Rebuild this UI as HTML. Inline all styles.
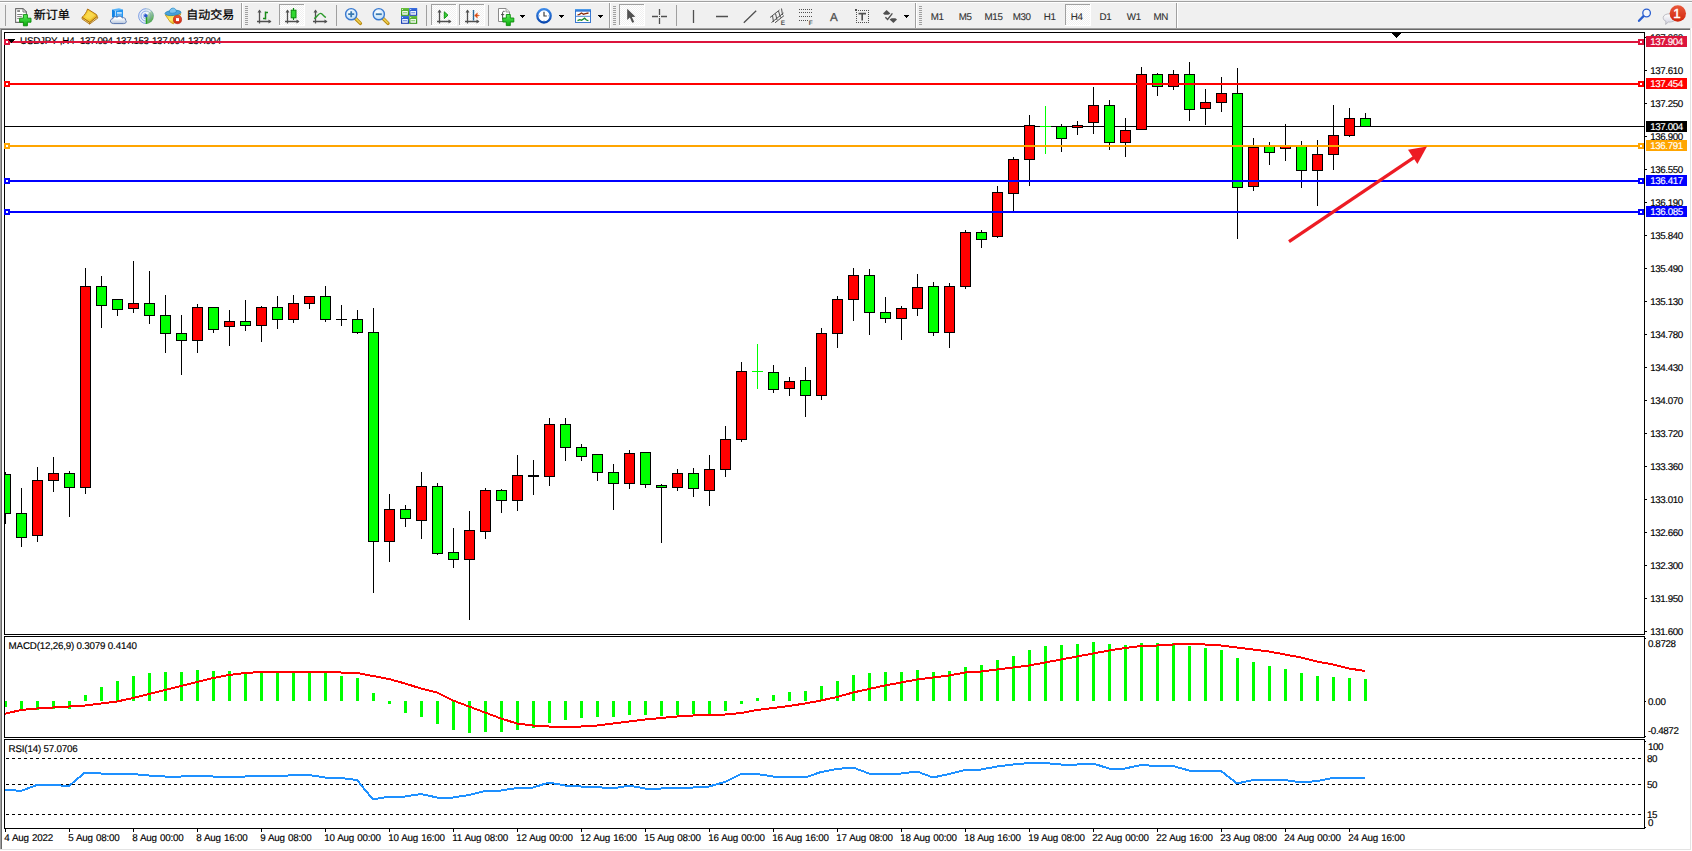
<!DOCTYPE html>
<html lang="zh"><head><meta charset="utf-8"><title>USDJPY,H4</title>
<style>
html,body{margin:0;padding:0;background:#fff;}
body{width:1692px;height:851px;overflow:hidden;position:relative;font-family:'Liberation Sans', 'Noto Sans CJK SC', sans-serif;}
svg{position:absolute;left:0;top:0;display:block;}
text{font-family:'Liberation Sans', 'Noto Sans CJK SC', sans-serif;text-rendering:geometricPrecision;}
.ax{font-size:9.8px;letter-spacing:-0.2px;fill:#000;stroke:#000;stroke-width:0.15px;}
.lb{font-size:9.8px;letter-spacing:-0.4px;fill:#fff;stroke:#fff;stroke-width:0.15px;}
.tf{font-size:9.8px;letter-spacing:-0.4px;fill:#303030;stroke:#303030;stroke-width:0.1px;}
.nm{font-size:9.8px;letter-spacing:-0.4px;fill:#000;stroke:#000;stroke-width:0.15px;}
.cn{font-size:12px;fill:#000;stroke:#000;stroke-width:0.25px;}
</style></head><body>
<svg width="1692" height="851" viewBox="0 0 1692 851">
<defs>
<pattern id="chk" width="2" height="2" patternUnits="userSpaceOnUse"><rect width="2" height="2" fill="#fff"/><rect width="1" height="1" fill="#f0f0f0"/><rect x="1" y="1" width="1" height="1" fill="#f0f0f0"/></pattern>
<clipPath id="cm"><rect x="5" y="33" width="1639" height="601"/></clipPath>
<clipPath id="cd"><rect x="5" y="637" width="1639" height="100"/></clipPath>
<clipPath id="cr"><rect x="5" y="740" width="1639" height="88"/></clipPath>
</defs>
<g shape-rendering="crispEdges">
<rect x="0" y="0" width="1692" height="851" fill="#fff"/>
<rect x="0" y="0" width="1692" height="28" fill="#f0f0f0"/>
<rect x="0" y="1" width="1692" height="1" fill="#a0a0a0"/>
<rect x="0" y="2" width="1692" height="1" fill="#fff"/>
<rect x="0" y="28" width="1690" height="1" fill="#a0a0a0"/>
<rect x="0" y="29" width="1690" height="1" fill="#696969"/>
<rect x="0" y="28" width="1" height="821" fill="#a0a0a0"/>
<rect x="1" y="29" width="1" height="820" fill="#696969"/>
<rect x="1690" y="28" width="1" height="822" fill="#e3e3e3"/>
<rect x="1691" y="28" width="1" height="823" fill="#fff"/>
<rect x="0" y="849" width="1691" height="1" fill="#e3e3e3"/>
<rect x="0" y="850" width="1692" height="1" fill="#fff"/>
<rect x="4" y="32" width="1641" height="1" fill="#000"/>
<rect x="4" y="634" width="1641" height="1" fill="#000"/>
<rect x="4" y="636" width="1641" height="1" fill="#000"/>
<rect x="4" y="737" width="1641" height="1" fill="#000"/>
<rect x="4" y="739" width="1641" height="1" fill="#000"/>
<rect x="4" y="828" width="1641" height="1" fill="#000"/>
<rect x="4" y="32" width="1" height="797" fill="#000"/>
<rect x="1644" y="32" width="1" height="797" fill="#000"/>
<rect x="4" y="635" width="1641" height="1" fill="#fff"/>
<rect x="4" y="738" width="1641" height="1" fill="#fff"/>
<rect x="1392" y="33" width="9" height="1" fill="#000"/>
<rect x="1393" y="34" width="7" height="1" fill="#000"/>
<rect x="1394" y="35" width="5" height="1" fill="#000"/>
<rect x="1395" y="36" width="3" height="1" fill="#000"/>
<rect x="1396" y="37" width="1" height="1" fill="#000"/>
</g>
<g clip-path="url(#cm)" shape-rendering="crispEdges">
<rect x="5" y="126" width="1639" height="1" fill="#000"/>
<rect x="5" y="472" width="1" height="52" fill="#000"/>
<rect x="0" y="474" width="11" height="40" fill="#000"/>
<rect x="1" y="475" width="9" height="38" fill="#00ff00"/>
<rect x="21" y="488" width="1" height="59" fill="#000"/>
<rect x="16" y="513" width="11" height="25" fill="#000"/>
<rect x="17" y="514" width="9" height="23" fill="#00ff00"/>
<rect x="37" y="467" width="1" height="75" fill="#000"/>
<rect x="32" y="480" width="11" height="56" fill="#000"/>
<rect x="33" y="481" width="9" height="54" fill="#ff0000"/>
<rect x="53" y="457" width="1" height="35" fill="#000"/>
<rect x="48" y="473" width="11" height="8" fill="#000"/>
<rect x="49" y="474" width="9" height="6" fill="#ff0000"/>
<rect x="69" y="471" width="1" height="46" fill="#000"/>
<rect x="64" y="473" width="11" height="15" fill="#000"/>
<rect x="65" y="474" width="9" height="13" fill="#00ff00"/>
<rect x="85" y="268" width="1" height="226" fill="#000"/>
<rect x="80" y="286" width="11" height="202" fill="#000"/>
<rect x="81" y="287" width="9" height="200" fill="#ff0000"/>
<rect x="101" y="276" width="1" height="52" fill="#000"/>
<rect x="96" y="286" width="11" height="20" fill="#000"/>
<rect x="97" y="287" width="9" height="18" fill="#00ff00"/>
<rect x="117" y="299" width="1" height="17" fill="#000"/>
<rect x="112" y="299" width="11" height="11" fill="#000"/>
<rect x="113" y="300" width="9" height="9" fill="#00ff00"/>
<rect x="133" y="261" width="1" height="52" fill="#000"/>
<rect x="128" y="303" width="11" height="6" fill="#000"/>
<rect x="129" y="304" width="9" height="4" fill="#ff0000"/>
<rect x="149" y="271" width="1" height="53" fill="#000"/>
<rect x="144" y="303" width="11" height="13" fill="#000"/>
<rect x="145" y="304" width="9" height="11" fill="#00ff00"/>
<rect x="165" y="295" width="1" height="58" fill="#000"/>
<rect x="160" y="315" width="11" height="19" fill="#000"/>
<rect x="161" y="316" width="9" height="17" fill="#00ff00"/>
<rect x="181" y="315" width="1" height="60" fill="#000"/>
<rect x="176" y="333" width="11" height="8" fill="#000"/>
<rect x="177" y="334" width="9" height="6" fill="#00ff00"/>
<rect x="197" y="304" width="1" height="49" fill="#000"/>
<rect x="192" y="307" width="11" height="34" fill="#000"/>
<rect x="193" y="308" width="9" height="32" fill="#ff0000"/>
<rect x="213" y="307" width="1" height="26" fill="#000"/>
<rect x="208" y="307" width="11" height="23" fill="#000"/>
<rect x="209" y="308" width="9" height="21" fill="#00ff00"/>
<rect x="229" y="310" width="1" height="36" fill="#000"/>
<rect x="224" y="321" width="11" height="6" fill="#000"/>
<rect x="225" y="322" width="9" height="4" fill="#ff0000"/>
<rect x="245" y="300" width="1" height="31" fill="#000"/>
<rect x="240" y="321" width="11" height="5" fill="#000"/>
<rect x="241" y="322" width="9" height="3" fill="#00ff00"/>
<rect x="261" y="306" width="1" height="36" fill="#000"/>
<rect x="256" y="307" width="11" height="19" fill="#000"/>
<rect x="257" y="308" width="9" height="17" fill="#ff0000"/>
<rect x="277" y="296" width="1" height="33" fill="#000"/>
<rect x="272" y="307" width="11" height="13" fill="#000"/>
<rect x="273" y="308" width="9" height="11" fill="#00ff00"/>
<rect x="293" y="295" width="1" height="28" fill="#000"/>
<rect x="288" y="303" width="11" height="17" fill="#000"/>
<rect x="289" y="304" width="9" height="15" fill="#ff0000"/>
<rect x="309" y="296" width="1" height="13" fill="#000"/>
<rect x="304" y="296" width="11" height="8" fill="#000"/>
<rect x="305" y="297" width="9" height="6" fill="#ff0000"/>
<rect x="325" y="286" width="1" height="36" fill="#000"/>
<rect x="320" y="296" width="11" height="24" fill="#000"/>
<rect x="321" y="297" width="9" height="22" fill="#00ff00"/>
<rect x="341" y="305" width="1" height="21" fill="#000"/>
<rect x="336" y="319" width="11" height="1" fill="#000"/>
<rect x="357" y="310" width="1" height="24" fill="#000"/>
<rect x="352" y="319" width="11" height="14" fill="#000"/>
<rect x="353" y="320" width="9" height="12" fill="#00ff00"/>
<rect x="373" y="308" width="1" height="285" fill="#000"/>
<rect x="368" y="332" width="11" height="210" fill="#000"/>
<rect x="369" y="333" width="9" height="208" fill="#00ff00"/>
<rect x="389" y="494" width="1" height="68" fill="#000"/>
<rect x="384" y="509" width="11" height="33" fill="#000"/>
<rect x="385" y="510" width="9" height="31" fill="#ff0000"/>
<rect x="405" y="505" width="1" height="22" fill="#000"/>
<rect x="400" y="509" width="11" height="10" fill="#000"/>
<rect x="401" y="510" width="9" height="8" fill="#00ff00"/>
<rect x="421" y="472" width="1" height="67" fill="#000"/>
<rect x="416" y="486" width="11" height="35" fill="#000"/>
<rect x="417" y="487" width="9" height="33" fill="#ff0000"/>
<rect x="437" y="483" width="1" height="72" fill="#000"/>
<rect x="432" y="486" width="11" height="68" fill="#000"/>
<rect x="433" y="487" width="9" height="66" fill="#00ff00"/>
<rect x="453" y="528" width="1" height="40" fill="#000"/>
<rect x="448" y="552" width="11" height="8" fill="#000"/>
<rect x="449" y="553" width="9" height="6" fill="#00ff00"/>
<rect x="469" y="511" width="1" height="109" fill="#000"/>
<rect x="464" y="530" width="11" height="30" fill="#000"/>
<rect x="465" y="531" width="9" height="28" fill="#ff0000"/>
<rect x="485" y="488" width="1" height="51" fill="#000"/>
<rect x="480" y="490" width="11" height="42" fill="#000"/>
<rect x="481" y="491" width="9" height="40" fill="#ff0000"/>
<rect x="501" y="489" width="1" height="24" fill="#000"/>
<rect x="496" y="490" width="11" height="11" fill="#000"/>
<rect x="497" y="491" width="9" height="9" fill="#00ff00"/>
<rect x="517" y="455" width="1" height="56" fill="#000"/>
<rect x="512" y="475" width="11" height="26" fill="#000"/>
<rect x="513" y="476" width="9" height="24" fill="#ff0000"/>
<rect x="533" y="460" width="1" height="35" fill="#000"/>
<rect x="528" y="475" width="11" height="2" fill="#000"/>
<rect x="549" y="418" width="1" height="68" fill="#000"/>
<rect x="544" y="424" width="11" height="53" fill="#000"/>
<rect x="545" y="425" width="9" height="51" fill="#ff0000"/>
<rect x="565" y="418" width="1" height="43" fill="#000"/>
<rect x="560" y="424" width="11" height="24" fill="#000"/>
<rect x="561" y="425" width="9" height="22" fill="#00ff00"/>
<rect x="581" y="444" width="1" height="17" fill="#000"/>
<rect x="576" y="447" width="11" height="10" fill="#000"/>
<rect x="577" y="448" width="9" height="8" fill="#00ff00"/>
<rect x="597" y="454" width="1" height="27" fill="#000"/>
<rect x="592" y="454" width="11" height="19" fill="#000"/>
<rect x="593" y="455" width="9" height="17" fill="#00ff00"/>
<rect x="613" y="464" width="1" height="46" fill="#000"/>
<rect x="608" y="472" width="11" height="12" fill="#000"/>
<rect x="609" y="473" width="9" height="10" fill="#00ff00"/>
<rect x="629" y="450" width="1" height="39" fill="#000"/>
<rect x="624" y="453" width="11" height="31" fill="#000"/>
<rect x="625" y="454" width="9" height="29" fill="#ff0000"/>
<rect x="645" y="452" width="1" height="36" fill="#000"/>
<rect x="640" y="452" width="11" height="33" fill="#000"/>
<rect x="641" y="453" width="9" height="31" fill="#00ff00"/>
<rect x="661" y="484" width="1" height="59" fill="#000"/>
<rect x="656" y="485" width="11" height="3" fill="#000"/>
<rect x="657" y="486" width="9" height="1" fill="#00ff00"/>
<rect x="677" y="469" width="1" height="22" fill="#000"/>
<rect x="672" y="473" width="11" height="15" fill="#000"/>
<rect x="673" y="474" width="9" height="13" fill="#ff0000"/>
<rect x="693" y="468" width="1" height="29" fill="#000"/>
<rect x="688" y="473" width="11" height="16" fill="#000"/>
<rect x="689" y="474" width="9" height="14" fill="#00ff00"/>
<rect x="709" y="455" width="1" height="51" fill="#000"/>
<rect x="704" y="469" width="11" height="22" fill="#000"/>
<rect x="705" y="470" width="9" height="20" fill="#ff0000"/>
<rect x="725" y="426" width="1" height="51" fill="#000"/>
<rect x="720" y="439" width="11" height="31" fill="#000"/>
<rect x="721" y="440" width="9" height="29" fill="#ff0000"/>
<rect x="741" y="362" width="1" height="80" fill="#000"/>
<rect x="736" y="371" width="11" height="69" fill="#000"/>
<rect x="737" y="372" width="9" height="67" fill="#ff0000"/>
<rect x="757" y="344" width="1" height="45" fill="#00ff00"/>
<rect x="752" y="371" width="11" height="1" fill="#00ff00"/>
<rect x="773" y="365" width="1" height="28" fill="#000"/>
<rect x="768" y="372" width="11" height="18" fill="#000"/>
<rect x="769" y="373" width="9" height="16" fill="#00ff00"/>
<rect x="789" y="377" width="1" height="19" fill="#000"/>
<rect x="784" y="381" width="11" height="8" fill="#000"/>
<rect x="785" y="382" width="9" height="6" fill="#ff0000"/>
<rect x="805" y="367" width="1" height="50" fill="#000"/>
<rect x="800" y="380" width="11" height="16" fill="#000"/>
<rect x="801" y="381" width="9" height="14" fill="#00ff00"/>
<rect x="821" y="328" width="1" height="72" fill="#000"/>
<rect x="816" y="333" width="11" height="63" fill="#000"/>
<rect x="817" y="334" width="9" height="61" fill="#ff0000"/>
<rect x="837" y="296" width="1" height="52" fill="#000"/>
<rect x="832" y="299" width="11" height="35" fill="#000"/>
<rect x="833" y="300" width="9" height="33" fill="#ff0000"/>
<rect x="853" y="268" width="1" height="53" fill="#000"/>
<rect x="848" y="275" width="11" height="25" fill="#000"/>
<rect x="849" y="276" width="9" height="23" fill="#ff0000"/>
<rect x="869" y="269" width="1" height="66" fill="#000"/>
<rect x="864" y="275" width="11" height="38" fill="#000"/>
<rect x="865" y="276" width="9" height="36" fill="#00ff00"/>
<rect x="885" y="297" width="1" height="26" fill="#000"/>
<rect x="880" y="312" width="11" height="7" fill="#000"/>
<rect x="881" y="313" width="9" height="5" fill="#00ff00"/>
<rect x="901" y="306" width="1" height="34" fill="#000"/>
<rect x="896" y="308" width="11" height="11" fill="#000"/>
<rect x="897" y="309" width="9" height="9" fill="#ff0000"/>
<rect x="917" y="274" width="1" height="42" fill="#000"/>
<rect x="912" y="287" width="11" height="22" fill="#000"/>
<rect x="913" y="288" width="9" height="20" fill="#ff0000"/>
<rect x="933" y="282" width="1" height="54" fill="#000"/>
<rect x="928" y="286" width="11" height="47" fill="#000"/>
<rect x="929" y="287" width="9" height="45" fill="#00ff00"/>
<rect x="949" y="283" width="1" height="65" fill="#000"/>
<rect x="944" y="286" width="11" height="47" fill="#000"/>
<rect x="945" y="287" width="9" height="45" fill="#ff0000"/>
<rect x="965" y="230" width="1" height="59" fill="#000"/>
<rect x="960" y="232" width="11" height="55" fill="#000"/>
<rect x="961" y="233" width="9" height="53" fill="#ff0000"/>
<rect x="981" y="230" width="1" height="18" fill="#000"/>
<rect x="976" y="232" width="11" height="8" fill="#000"/>
<rect x="977" y="233" width="9" height="6" fill="#00ff00"/>
<rect x="997" y="186" width="1" height="52" fill="#000"/>
<rect x="992" y="192" width="11" height="45" fill="#000"/>
<rect x="993" y="193" width="9" height="43" fill="#ff0000"/>
<rect x="1013" y="157" width="1" height="54" fill="#000"/>
<rect x="1008" y="159" width="11" height="35" fill="#000"/>
<rect x="1009" y="160" width="9" height="33" fill="#ff0000"/>
<rect x="1029" y="115" width="1" height="71" fill="#000"/>
<rect x="1024" y="125" width="11" height="35" fill="#000"/>
<rect x="1025" y="126" width="9" height="33" fill="#ff0000"/>
<rect x="1045" y="106" width="1" height="48" fill="#00ff00"/>
<rect x="1040" y="126" width="11" height="1" fill="#00ff00"/>
<rect x="1061" y="124" width="1" height="28" fill="#000"/>
<rect x="1056" y="126" width="11" height="13" fill="#000"/>
<rect x="1057" y="127" width="9" height="11" fill="#00ff00"/>
<rect x="1077" y="121" width="1" height="14" fill="#000"/>
<rect x="1072" y="125" width="11" height="3" fill="#000"/>
<rect x="1073" y="126" width="9" height="1" fill="#ff0000"/>
<rect x="1093" y="87" width="1" height="47" fill="#000"/>
<rect x="1088" y="105" width="11" height="18" fill="#000"/>
<rect x="1089" y="106" width="9" height="16" fill="#ff0000"/>
<rect x="1109" y="100" width="1" height="50" fill="#000"/>
<rect x="1104" y="105" width="11" height="38" fill="#000"/>
<rect x="1105" y="106" width="9" height="36" fill="#00ff00"/>
<rect x="1125" y="118" width="1" height="39" fill="#000"/>
<rect x="1120" y="130" width="11" height="13" fill="#000"/>
<rect x="1121" y="131" width="9" height="11" fill="#ff0000"/>
<rect x="1141" y="67" width="1" height="63" fill="#000"/>
<rect x="1136" y="74" width="11" height="56" fill="#000"/>
<rect x="1137" y="75" width="9" height="54" fill="#ff0000"/>
<rect x="1157" y="73" width="1" height="23" fill="#000"/>
<rect x="1152" y="74" width="11" height="13" fill="#000"/>
<rect x="1153" y="75" width="9" height="11" fill="#00ff00"/>
<rect x="1173" y="70" width="1" height="20" fill="#000"/>
<rect x="1168" y="74" width="11" height="13" fill="#000"/>
<rect x="1169" y="75" width="9" height="11" fill="#ff0000"/>
<rect x="1189" y="62" width="1" height="59" fill="#000"/>
<rect x="1184" y="74" width="11" height="36" fill="#000"/>
<rect x="1185" y="75" width="9" height="34" fill="#00ff00"/>
<rect x="1205" y="89" width="1" height="36" fill="#000"/>
<rect x="1200" y="102" width="11" height="7" fill="#000"/>
<rect x="1201" y="103" width="9" height="5" fill="#ff0000"/>
<rect x="1221" y="77" width="1" height="35" fill="#000"/>
<rect x="1216" y="93" width="11" height="10" fill="#000"/>
<rect x="1217" y="94" width="9" height="8" fill="#ff0000"/>
<rect x="1237" y="68" width="1" height="171" fill="#000"/>
<rect x="1232" y="93" width="11" height="95" fill="#000"/>
<rect x="1233" y="94" width="9" height="93" fill="#00ff00"/>
<rect x="1253" y="138" width="1" height="53" fill="#000"/>
<rect x="1248" y="147" width="11" height="40" fill="#000"/>
<rect x="1249" y="148" width="9" height="38" fill="#ff0000"/>
<rect x="1269" y="142" width="1" height="23" fill="#000"/>
<rect x="1264" y="145" width="11" height="8" fill="#000"/>
<rect x="1265" y="146" width="9" height="6" fill="#00ff00"/>
<rect x="1285" y="124" width="1" height="37" fill="#000"/>
<rect x="1280" y="146" width="11" height="3" fill="#000"/>
<rect x="1281" y="147" width="9" height="1" fill="#ff0000"/>
<rect x="1301" y="141" width="1" height="47" fill="#000"/>
<rect x="1296" y="145" width="11" height="26" fill="#000"/>
<rect x="1297" y="146" width="9" height="24" fill="#00ff00"/>
<rect x="1317" y="140" width="1" height="66" fill="#000"/>
<rect x="1312" y="154" width="11" height="17" fill="#000"/>
<rect x="1313" y="155" width="9" height="15" fill="#ff0000"/>
<rect x="1333" y="105" width="1" height="65" fill="#000"/>
<rect x="1328" y="135" width="11" height="20" fill="#000"/>
<rect x="1329" y="136" width="9" height="18" fill="#ff0000"/>
<rect x="1349" y="108" width="1" height="29" fill="#000"/>
<rect x="1344" y="118" width="11" height="18" fill="#000"/>
<rect x="1345" y="119" width="9" height="16" fill="#ff0000"/>
<rect x="1365" y="113" width="1" height="14" fill="#000"/>
<rect x="1360" y="118" width="11" height="9" fill="#000"/>
<rect x="1361" y="119" width="9" height="7" fill="#00ff00"/>
</g>
<g shape-rendering="crispEdges">
<rect x="1645" y="37" width="2" height="1" fill="#000"/>
<rect x="1645" y="70" width="2" height="1" fill="#000"/>
<rect x="1645" y="103" width="2" height="1" fill="#000"/>
<rect x="1645" y="136" width="2" height="1" fill="#000"/>
<rect x="1645" y="169" width="2" height="1" fill="#000"/>
<rect x="1645" y="202" width="2" height="1" fill="#000"/>
<rect x="1645" y="235" width="2" height="1" fill="#000"/>
<rect x="1645" y="268" width="2" height="1" fill="#000"/>
<rect x="1645" y="301" width="2" height="1" fill="#000"/>
<rect x="1645" y="334" width="2" height="1" fill="#000"/>
<rect x="1645" y="367" width="2" height="1" fill="#000"/>
<rect x="1645" y="400" width="2" height="1" fill="#000"/>
<rect x="1645" y="433" width="2" height="1" fill="#000"/>
<rect x="1645" y="466" width="2" height="1" fill="#000"/>
<rect x="1645" y="499" width="2" height="1" fill="#000"/>
<rect x="1645" y="532" width="2" height="1" fill="#000"/>
<rect x="1645" y="565" width="2" height="1" fill="#000"/>
<rect x="1645" y="598" width="2" height="1" fill="#000"/>
<rect x="1645" y="631" width="2" height="1" fill="#000"/>
</g>
<text class="nm" x="1650.2" y="40.8" xml:space="preserve">137.960</text>
<text class="nm" x="1650.2" y="73.8" xml:space="preserve">137.610</text>
<text class="nm" x="1650.2" y="106.8" xml:space="preserve">137.250</text>
<text class="nm" x="1650.2" y="139.8" xml:space="preserve">136.900</text>
<text class="nm" x="1650.2" y="172.8" xml:space="preserve">136.550</text>
<text class="nm" x="1650.2" y="205.8" xml:space="preserve">136.190</text>
<text class="nm" x="1650.2" y="238.8" xml:space="preserve">135.840</text>
<text class="nm" x="1650.2" y="271.8" xml:space="preserve">135.490</text>
<text class="nm" x="1650.2" y="304.8" xml:space="preserve">135.130</text>
<text class="nm" x="1650.2" y="337.8" xml:space="preserve">134.780</text>
<text class="nm" x="1650.2" y="370.8" xml:space="preserve">134.430</text>
<text class="nm" x="1650.2" y="403.8" xml:space="preserve">134.070</text>
<text class="nm" x="1650.2" y="436.8" xml:space="preserve">133.720</text>
<text class="nm" x="1650.2" y="469.8" xml:space="preserve">133.360</text>
<text class="nm" x="1650.2" y="502.8" xml:space="preserve">133.010</text>
<text class="nm" x="1650.2" y="535.8" xml:space="preserve">132.660</text>
<text class="nm" x="1650.2" y="568.8" xml:space="preserve">132.300</text>
<text class="nm" x="1650.2" y="601.8" xml:space="preserve">131.950</text>
<text class="nm" x="1650.2" y="634.8" xml:space="preserve">131.600</text>
<g shape-rendering="crispEdges">
<rect x="5" y="41" width="1639" height="2" fill="#dc143c"/>
<rect x="4" y="39" width="6" height="6" fill="#dc143c"/>
<rect x="6" y="41" width="2" height="2" fill="#fff"/>
<rect x="1638" y="39" width="6" height="6" fill="#dc143c"/>
<rect x="1640" y="41" width="2" height="2" fill="#fff"/>
<rect x="1646" y="36" width="41" height="11" fill="#dc143c"/>
</g>
<text class="lb" x="1650.2" y="44.8" xml:space="preserve">137.904</text>
<g shape-rendering="crispEdges">
<rect x="5" y="83" width="1639" height="2" fill="#ff0000"/>
<rect x="4" y="81" width="6" height="6" fill="#ff0000"/>
<rect x="6" y="83" width="2" height="2" fill="#fff"/>
<rect x="1638" y="81" width="6" height="6" fill="#ff0000"/>
<rect x="1640" y="83" width="2" height="2" fill="#fff"/>
<rect x="1646" y="78" width="41" height="11" fill="#ff0000"/>
</g>
<text class="lb" x="1650.2" y="86.8" xml:space="preserve">137.454</text>
<g shape-rendering="crispEdges">
<rect x="5" y="145" width="1639" height="2" fill="#ffa500"/>
<rect x="4" y="143" width="6" height="6" fill="#ffa500"/>
<rect x="6" y="145" width="2" height="2" fill="#fff"/>
<rect x="1638" y="143" width="6" height="6" fill="#ffa500"/>
<rect x="1640" y="145" width="2" height="2" fill="#fff"/>
<rect x="1646" y="140" width="41" height="11" fill="#ffa500"/>
</g>
<text class="lb" x="1650.2" y="148.8" xml:space="preserve">136.791</text>
<g shape-rendering="crispEdges">
<rect x="5" y="180" width="1639" height="2" fill="#0000ff"/>
<rect x="4" y="178" width="6" height="6" fill="#0000ff"/>
<rect x="6" y="180" width="2" height="2" fill="#fff"/>
<rect x="1638" y="178" width="6" height="6" fill="#0000ff"/>
<rect x="1640" y="180" width="2" height="2" fill="#fff"/>
<rect x="1646" y="175" width="41" height="11" fill="#0000ff"/>
</g>
<text class="lb" x="1650.2" y="183.8" xml:space="preserve">136.417</text>
<g shape-rendering="crispEdges">
<rect x="5" y="211" width="1639" height="2" fill="#0000ff"/>
<rect x="4" y="209" width="6" height="6" fill="#0000ff"/>
<rect x="6" y="211" width="2" height="2" fill="#fff"/>
<rect x="1638" y="209" width="6" height="6" fill="#0000ff"/>
<rect x="1640" y="211" width="2" height="2" fill="#fff"/>
<rect x="1646" y="206" width="41" height="11" fill="#0000ff"/>
</g>
<text class="lb" x="1650.2" y="214.8" xml:space="preserve">136.085</text>
<rect x="1646" y="121" width="41" height="11" fill="#000" shape-rendering="crispEdges"/>
<text class="lb" x="1650.2" y="129.8" xml:space="preserve">137.004</text>
<g fill="#ed1c24" stroke="none">
<path d="M1288.1,240.2 L1289.9,242.9 L1415.4,158.4 L1413.6,155.7 Z"/>
<path d="M1427,146.6 L1408,149.7 L1417.4,163.9 Z"/>
</g>
<text class="ax" x="20" y="43.9" xml:space="preserve">USDJPY ,H4</text>
<text class="nm" x="80" y="43.9" xml:space="preserve" style="word-spacing:1.1px">137.094 137.153 137.004 137.004</text>
<g shape-rendering="crispEdges">
<rect x="5" y="41" width="1639" height="2" fill="#dc143c"/>
<rect x="4" y="39" width="6" height="6" fill="#dc143c"/>
<rect x="6" y="41" width="2" height="2" fill="#fff"/>
<rect x="1638" y="39" width="6" height="6" fill="#dc143c"/>
<rect x="1640" y="41" width="2" height="2" fill="#fff"/>
<rect x="8" y="39" width="7" height="1" fill="#000"/>
<rect x="9" y="40" width="5" height="1" fill="#000"/>
<rect x="10" y="41" width="3" height="1" fill="#000"/>
<rect x="11" y="42" width="1" height="1" fill="#000"/>
</g>
<g clip-path="url(#cd)">
<g shape-rendering="crispEdges">
<rect x="4" y="701" width="3" height="6" fill="#00ff00"/>
<rect x="20" y="701" width="3" height="9" fill="#00ff00"/>
<rect x="36" y="701" width="3" height="9" fill="#00ff00"/>
<rect x="52" y="701" width="3" height="8" fill="#00ff00"/>
<rect x="68" y="701" width="3" height="8" fill="#00ff00"/>
<rect x="84" y="695" width="3" height="6" fill="#00ff00"/>
<rect x="100" y="687" width="3" height="14" fill="#00ff00"/>
<rect x="116" y="681" width="3" height="20" fill="#00ff00"/>
<rect x="132" y="676" width="3" height="25" fill="#00ff00"/>
<rect x="148" y="673" width="3" height="28" fill="#00ff00"/>
<rect x="164" y="672" width="3" height="29" fill="#00ff00"/>
<rect x="180" y="672" width="3" height="29" fill="#00ff00"/>
<rect x="196" y="670" width="3" height="31" fill="#00ff00"/>
<rect x="212" y="671" width="3" height="30" fill="#00ff00"/>
<rect x="228" y="671" width="3" height="30" fill="#00ff00"/>
<rect x="244" y="672" width="3" height="29" fill="#00ff00"/>
<rect x="260" y="672" width="3" height="29" fill="#00ff00"/>
<rect x="276" y="673" width="3" height="28" fill="#00ff00"/>
<rect x="292" y="673" width="3" height="28" fill="#00ff00"/>
<rect x="308" y="673" width="3" height="28" fill="#00ff00"/>
<rect x="324" y="673" width="3" height="28" fill="#00ff00"/>
<rect x="340" y="676" width="3" height="25" fill="#00ff00"/>
<rect x="356" y="678" width="3" height="23" fill="#00ff00"/>
<rect x="372" y="693" width="3" height="8" fill="#00ff00"/>
<rect x="388" y="701" width="3" height="3" fill="#00ff00"/>
<rect x="404" y="701" width="3" height="12" fill="#00ff00"/>
<rect x="420" y="701" width="3" height="16" fill="#00ff00"/>
<rect x="436" y="701" width="3" height="23" fill="#00ff00"/>
<rect x="452" y="701" width="3" height="29" fill="#00ff00"/>
<rect x="468" y="701" width="3" height="32" fill="#00ff00"/>
<rect x="484" y="701" width="3" height="31" fill="#00ff00"/>
<rect x="500" y="701" width="3" height="31" fill="#00ff00"/>
<rect x="516" y="701" width="3" height="29" fill="#00ff00"/>
<rect x="532" y="701" width="3" height="27" fill="#00ff00"/>
<rect x="548" y="701" width="3" height="22" fill="#00ff00"/>
<rect x="564" y="701" width="3" height="19" fill="#00ff00"/>
<rect x="580" y="701" width="3" height="17" fill="#00ff00"/>
<rect x="596" y="701" width="3" height="16" fill="#00ff00"/>
<rect x="612" y="701" width="3" height="16" fill="#00ff00"/>
<rect x="628" y="701" width="3" height="14" fill="#00ff00"/>
<rect x="644" y="701" width="3" height="14" fill="#00ff00"/>
<rect x="660" y="701" width="3" height="15" fill="#00ff00"/>
<rect x="676" y="701" width="3" height="14" fill="#00ff00"/>
<rect x="692" y="701" width="3" height="13" fill="#00ff00"/>
<rect x="708" y="701" width="3" height="13" fill="#00ff00"/>
<rect x="724" y="701" width="3" height="10" fill="#00ff00"/>
<rect x="740" y="701" width="3" height="3" fill="#00ff00"/>
<rect x="756" y="698" width="3" height="3" fill="#00ff00"/>
<rect x="772" y="695" width="3" height="6" fill="#00ff00"/>
<rect x="788" y="692" width="3" height="9" fill="#00ff00"/>
<rect x="804" y="691" width="3" height="10" fill="#00ff00"/>
<rect x="820" y="686" width="3" height="15" fill="#00ff00"/>
<rect x="836" y="681" width="3" height="20" fill="#00ff00"/>
<rect x="852" y="675" width="3" height="26" fill="#00ff00"/>
<rect x="868" y="673" width="3" height="28" fill="#00ff00"/>
<rect x="884" y="672" width="3" height="29" fill="#00ff00"/>
<rect x="900" y="672" width="3" height="29" fill="#00ff00"/>
<rect x="916" y="670" width="3" height="31" fill="#00ff00"/>
<rect x="932" y="672" width="3" height="29" fill="#00ff00"/>
<rect x="948" y="671" width="3" height="30" fill="#00ff00"/>
<rect x="964" y="667" width="3" height="34" fill="#00ff00"/>
<rect x="980" y="665" width="3" height="36" fill="#00ff00"/>
<rect x="996" y="660" width="3" height="41" fill="#00ff00"/>
<rect x="1012" y="656" width="3" height="45" fill="#00ff00"/>
<rect x="1028" y="650" width="3" height="51" fill="#00ff00"/>
<rect x="1044" y="646" width="3" height="55" fill="#00ff00"/>
<rect x="1060" y="645" width="3" height="56" fill="#00ff00"/>
<rect x="1076" y="644" width="3" height="57" fill="#00ff00"/>
<rect x="1092" y="642" width="3" height="59" fill="#00ff00"/>
<rect x="1108" y="644" width="3" height="57" fill="#00ff00"/>
<rect x="1124" y="645" width="3" height="56" fill="#00ff00"/>
<rect x="1140" y="643" width="3" height="58" fill="#00ff00"/>
<rect x="1156" y="643" width="3" height="58" fill="#00ff00"/>
<rect x="1172" y="643" width="3" height="58" fill="#00ff00"/>
<rect x="1188" y="646" width="3" height="55" fill="#00ff00"/>
<rect x="1204" y="648" width="3" height="53" fill="#00ff00"/>
<rect x="1220" y="650" width="3" height="51" fill="#00ff00"/>
<rect x="1236" y="658" width="3" height="43" fill="#00ff00"/>
<rect x="1252" y="662" width="3" height="39" fill="#00ff00"/>
<rect x="1268" y="666" width="3" height="35" fill="#00ff00"/>
<rect x="1284" y="669" width="3" height="32" fill="#00ff00"/>
<rect x="1300" y="673" width="3" height="28" fill="#00ff00"/>
<rect x="1316" y="676" width="3" height="25" fill="#00ff00"/>
<rect x="1332" y="677" width="3" height="24" fill="#00ff00"/>
<rect x="1348" y="678" width="3" height="23" fill="#00ff00"/>
<rect x="1364" y="679" width="3" height="22" fill="#00ff00"/>
</g>
<polyline points="5,713.75 21,710 37,708.5 53,707.5 69,706.5 85,705.5 101,703.5 117,701.5 133,698 149,694 165,690 181,686 197,682 213,678 229,675 245,673 261,672 277,672 293,672 309,672 325,672 341,672.5 357,673 373,676 389,679 405,683.5 421,688.5 437,692.5 453,700.5 469,706.5 485,712.5 501,718.5 517,723.5 533,725.5 549,726.5 565,726.5 581,726.5 597,725.5 613,723.5 629,721.5 645,719.5 661,718 677,716.5 693,715.5 709,715 725,714.5 741,713 757,710 773,708 789,706 805,703.5 821,700.5 837,697 853,692.5 869,689 885,685.5 901,682.5 917,679.5 933,677.5 949,675.5 965,672.5 981,671.5 997,669.5 1013,667.5 1029,665.5 1045,662.5 1061,659.5 1077,656.5 1093,653.5 1109,650.5 1125,648 1141,646 1157,645.5 1173,644.5 1189,644 1205,644.5 1221,645.5 1237,647.5 1253,649.5 1269,651.5 1285,654.5 1301,657.5 1317,661.5 1333,664.5 1349,668.5 1365,671" fill="none" stroke="#ff0000" stroke-width="2" stroke-linejoin="round" shape-rendering="crispEdges"/>
</g>
<text class="ax" x="8.6" y="648.8" xml:space="preserve">MACD(12,26,9) 0.3079 0.4140</text>
<g shape-rendering="crispEdges">
<rect x="1645" y="638" width="1" height="1" fill="#000"/>
<rect x="1645" y="701" width="1" height="1" fill="#000"/>
<rect x="1645" y="736" width="1" height="1" fill="#000"/>
</g>
<text class="nm" x="1648" y="646.8" xml:space="preserve">0.8728</text>
<text class="nm" x="1648" y="704.8" xml:space="preserve">0.00</text>
<text class="nm" x="1648" y="734.2" xml:space="preserve">-0.4872</text>
<g clip-path="url(#cr)">
<g shape-rendering="crispEdges">
<line x1="6" y1="758.5" x2="1644" y2="758.5" stroke="#000" stroke-width="1" stroke-dasharray="3 3"/>
<line x1="6" y1="784.5" x2="1644" y2="784.5" stroke="#000" stroke-width="1" stroke-dasharray="3 3"/>
<line x1="6" y1="814.5" x2="1644" y2="814.5" stroke="#000" stroke-width="1" stroke-dasharray="3 3"/>
</g>
<polyline points="5,789.5 21,791 37,785 53,785 69,786 85,772.5 101,773.5 117,774 133,774 149,775.5 165,776.5 181,776.5 197,775.5 213,776.5 229,776.5 245,776.5 261,775.5 277,776.5 293,775 309,775 325,777.5 341,778 357,780 373,799.5 389,796.5 405,796.5 421,794 437,797.5 453,797.5 469,795 485,791 501,790.5 517,788 533,787.5 549,782.5 565,785.5 581,786.5 597,787 613,788.5 629,785.5 645,788.5 661,788.5 677,787.5 693,787.5 709,786.5 725,782 741,774 757,774 773,776.5 789,776.5 805,777.5 821,772 837,769 853,767.5 869,773.5 885,773.5 901,773.5 917,771.5 933,777.5 949,774 965,770 981,769.5 997,766.5 1013,764.5 1029,763 1045,763 1061,764.5 1077,764.5 1093,763.5 1109,768.5 1125,768.5 1141,765 1157,766 1173,766 1189,770.5 1205,770.5 1221,771 1237,783.5 1253,780 1269,780 1285,780 1301,782.5 1317,781 1333,778 1349,778 1365,778" fill="none" stroke="#1e90ff" stroke-width="2" stroke-linejoin="round" shape-rendering="crispEdges"/>
</g>
<text class="ax" x="8.6" y="751.8" xml:space="preserve">RSI(14) 57.0706</text>
<text class="nm" x="1648" y="749.8" xml:space="preserve">100</text>
<text class="nm" x="1646.9" y="761.8" xml:space="preserve">80</text>
<text class="nm" x="1646.9" y="787.8" xml:space="preserve">50</text>
<text class="nm" x="1646.9" y="817.8" xml:space="preserve">15</text>
<text class="nm" x="1648" y="825.6" xml:space="preserve">0</text>
<g shape-rendering="crispEdges">
<rect x="1645" y="741" width="1" height="1" fill="#000"/>
<rect x="1645" y="827" width="1" height="1" fill="#000"/>
</g>
<g shape-rendering="crispEdges">
<rect x="5" y="829" width="1" height="3" fill="#000"/>
<rect x="69" y="829" width="1" height="3" fill="#000"/>
<rect x="133" y="829" width="1" height="3" fill="#000"/>
<rect x="197" y="829" width="1" height="3" fill="#000"/>
<rect x="261" y="829" width="1" height="3" fill="#000"/>
<rect x="325" y="829" width="1" height="3" fill="#000"/>
<rect x="389" y="829" width="1" height="3" fill="#000"/>
<rect x="453" y="829" width="1" height="3" fill="#000"/>
<rect x="517" y="829" width="1" height="3" fill="#000"/>
<rect x="581" y="829" width="1" height="3" fill="#000"/>
<rect x="645" y="829" width="1" height="3" fill="#000"/>
<rect x="709" y="829" width="1" height="3" fill="#000"/>
<rect x="773" y="829" width="1" height="3" fill="#000"/>
<rect x="837" y="829" width="1" height="3" fill="#000"/>
<rect x="901" y="829" width="1" height="3" fill="#000"/>
<rect x="965" y="829" width="1" height="3" fill="#000"/>
<rect x="1029" y="829" width="1" height="3" fill="#000"/>
<rect x="1093" y="829" width="1" height="3" fill="#000"/>
<rect x="1157" y="829" width="1" height="3" fill="#000"/>
<rect x="1221" y="829" width="1" height="3" fill="#000"/>
<rect x="1285" y="829" width="1" height="3" fill="#000"/>
<rect x="1349" y="829" width="1" height="3" fill="#000"/>
</g>
<text class="ax" x="4.2" y="840.8" xml:space="preserve" style="word-spacing:0.6px">4 Aug 2022</text>
<text class="ax" x="68.2" y="840.8" xml:space="preserve" style="word-spacing:0.6px">5 Aug 08:00</text>
<text class="ax" x="132.2" y="840.8" xml:space="preserve" style="word-spacing:0.6px">8 Aug 00:00</text>
<text class="ax" x="196.2" y="840.8" xml:space="preserve" style="word-spacing:0.6px">8 Aug 16:00</text>
<text class="ax" x="260.2" y="840.8" xml:space="preserve" style="word-spacing:0.6px">9 Aug 08:00</text>
<text class="ax" x="324.2" y="840.8" xml:space="preserve" style="word-spacing:0.6px">10 Aug 00:00</text>
<text class="ax" x="388.2" y="840.8" xml:space="preserve" style="word-spacing:0.6px">10 Aug 16:00</text>
<text class="ax" x="452.2" y="840.8" xml:space="preserve" style="word-spacing:0.6px">11 Aug 08:00</text>
<text class="ax" x="516.2" y="840.8" xml:space="preserve" style="word-spacing:0.6px">12 Aug 00:00</text>
<text class="ax" x="580.2" y="840.8" xml:space="preserve" style="word-spacing:0.6px">12 Aug 16:00</text>
<text class="ax" x="644.2" y="840.8" xml:space="preserve" style="word-spacing:0.6px">15 Aug 08:00</text>
<text class="ax" x="708.2" y="840.8" xml:space="preserve" style="word-spacing:0.6px">16 Aug 00:00</text>
<text class="ax" x="772.2" y="840.8" xml:space="preserve" style="word-spacing:0.6px">16 Aug 16:00</text>
<text class="ax" x="836.2" y="840.8" xml:space="preserve" style="word-spacing:0.6px">17 Aug 08:00</text>
<text class="ax" x="900.2" y="840.8" xml:space="preserve" style="word-spacing:0.6px">18 Aug 00:00</text>
<text class="ax" x="964.2" y="840.8" xml:space="preserve" style="word-spacing:0.6px">18 Aug 16:00</text>
<text class="ax" x="1028.2" y="840.8" xml:space="preserve" style="word-spacing:0.6px">19 Aug 08:00</text>
<text class="ax" x="1092.2" y="840.8" xml:space="preserve" style="word-spacing:0.6px">22 Aug 00:00</text>
<text class="ax" x="1156.2" y="840.8" xml:space="preserve" style="word-spacing:0.6px">22 Aug 16:00</text>
<text class="ax" x="1220.2" y="840.8" xml:space="preserve" style="word-spacing:0.6px">23 Aug 08:00</text>
<text class="ax" x="1284.2" y="840.8" xml:space="preserve" style="word-spacing:0.6px">24 Aug 00:00</text>
<text class="ax" x="1348.2" y="840.8" xml:space="preserve" style="word-spacing:0.6px">24 Aug 16:00</text>
<defs>
<linearGradient id="gpl" x1="0" y1="0" x2="0" y2="1"><stop offset="0" stop-color="#5cf05c"/><stop offset="1" stop-color="#0aa80a"/></linearGradient>
<linearGradient id="ggold" x1="0" y1="0" x2="1" y2="1"><stop offset="0" stop-color="#f4c020"/><stop offset="0.5" stop-color="#f8d438"/><stop offset="1" stop-color="#d89810"/></linearGradient>
<linearGradient id="gred" x1="0" y1="0" x2="0" y2="1"><stop offset="0" stop-color="#ea5a3c"/><stop offset="1" stop-color="#d0260c"/></linearGradient>
<linearGradient id="gblu" x1="0" y1="0" x2="0" y2="1"><stop offset="0" stop-color="#5aa8f0"/><stop offset="1" stop-color="#1a5fc8"/></linearGradient>
<linearGradient id="ggrn" x1="0" y1="0" x2="0" y2="1"><stop offset="0" stop-color="#6ac040"/><stop offset="1" stop-color="#2a9010"/></linearGradient>
<radialGradient id="glens" cx="0.4" cy="0.35" r="0.7"><stop offset="0" stop-color="#ffffff"/><stop offset="1" stop-color="#b8dcf8"/></radialGradient>
<linearGradient id="gblu2" x1="0" y1="0" x2="0" y2="1"><stop offset="0" stop-color="#3a88e8"/><stop offset="1" stop-color="#0a48b0"/></linearGradient>
<linearGradient id="gtb" x1="0" y1="0" x2="0" y2="1"><stop offset="0" stop-color="#3a70e0"/><stop offset="1" stop-color="#1438b0"/></linearGradient>
<linearGradient id="gcloud" x1="0" y1="0" x2="0" y2="1"><stop offset="0.3" stop-color="#ffffff"/><stop offset="1" stop-color="#b4c4dc"/></linearGradient>
<radialGradient id="gsig" cx="0.5" cy="0.5" r="0.5"><stop offset="0" stop-color="#ffffff"/><stop offset="1" stop-color="#dce6f4"/></radialGradient>
<linearGradient id="gsgr" x1="0" y1="0" x2="0.6" y2="1"><stop offset="0" stop-color="#cfe4cf" stop-opacity="0.7"/><stop offset="1" stop-color="#3c9c3c"/></linearGradient>
<linearGradient id="gyel" x1="0" y1="0" x2="0.3" y2="1"><stop offset="0" stop-color="#f0c020"/><stop offset="0.6" stop-color="#fbf070"/><stop offset="1" stop-color="#e8b020"/></linearGradient>
<linearGradient id="gbub" x1="0" y1="0" x2="0" y2="1"><stop offset="0.2" stop-color="#f6f6f8"/><stop offset="1" stop-color="#d0d0e0"/></linearGradient>
</defs>
<g shape-rendering="crispEdges">
<rect x="5" y="5" width="1" height="21" fill="#a0a0a0"/>
<rect x="241" y="3" width="1" height="25" fill="#a0a0a0"/>
<rect x="242" y="3" width="1" height="25" fill="#fff"/>
<rect x="245" y="6" width="3" height="1" fill="#a0a0a0"/>
<rect x="245" y="8" width="3" height="1" fill="#a0a0a0"/>
<rect x="245" y="10" width="3" height="1" fill="#a0a0a0"/>
<rect x="245" y="12" width="3" height="1" fill="#a0a0a0"/>
<rect x="245" y="14" width="3" height="1" fill="#a0a0a0"/>
<rect x="245" y="16" width="3" height="1" fill="#a0a0a0"/>
<rect x="245" y="18" width="3" height="1" fill="#a0a0a0"/>
<rect x="245" y="20" width="3" height="1" fill="#a0a0a0"/>
<rect x="245" y="22" width="3" height="1" fill="#a0a0a0"/>
<rect x="245" y="24" width="3" height="1" fill="#a0a0a0"/>
<rect x="279" y="4" width="26" height="22" fill="url(#chk)"/>
<rect x="279" y="4" width="26" height="1" fill="#a0a0a0"/>
<rect x="279" y="4" width="1" height="22" fill="#a0a0a0"/>
<rect x="279" y="25" width="26" height="1" fill="#fff"/>
<rect x="304" y="4" width="1" height="22" fill="#fff"/>
<rect x="336" y="5" width="1" height="21" fill="#a0a0a0"/>
<rect x="426" y="5" width="1" height="21" fill="#a0a0a0"/>
<rect x="431" y="4" width="26" height="22" fill="url(#chk)"/>
<rect x="431" y="4" width="26" height="1" fill="#a0a0a0"/>
<rect x="431" y="4" width="1" height="22" fill="#a0a0a0"/>
<rect x="431" y="25" width="26" height="1" fill="#fff"/>
<rect x="456" y="4" width="1" height="22" fill="#fff"/>
<rect x="459" y="4" width="26" height="22" fill="url(#chk)"/>
<rect x="459" y="4" width="26" height="1" fill="#a0a0a0"/>
<rect x="459" y="4" width="1" height="22" fill="#a0a0a0"/>
<rect x="459" y="25" width="26" height="1" fill="#fff"/>
<rect x="484" y="4" width="1" height="22" fill="#fff"/>
<rect x="488" y="5" width="1" height="21" fill="#a0a0a0"/>
<rect x="520" y="15" width="5" height="1" fill="#000"/>
<rect x="521" y="16" width="3" height="1" fill="#000"/>
<rect x="522" y="17" width="1" height="1" fill="#000"/>
<rect x="559" y="15" width="5" height="1" fill="#000"/>
<rect x="560" y="16" width="3" height="1" fill="#000"/>
<rect x="561" y="17" width="1" height="1" fill="#000"/>
<rect x="598" y="15" width="5" height="1" fill="#000"/>
<rect x="599" y="16" width="3" height="1" fill="#000"/>
<rect x="600" y="17" width="1" height="1" fill="#000"/>
<rect x="609" y="3" width="1" height="25" fill="#a0a0a0"/>
<rect x="610" y="3" width="1" height="25" fill="#fff"/>
<rect x="613" y="6" width="3" height="1" fill="#a0a0a0"/>
<rect x="613" y="8" width="3" height="1" fill="#a0a0a0"/>
<rect x="613" y="10" width="3" height="1" fill="#a0a0a0"/>
<rect x="613" y="12" width="3" height="1" fill="#a0a0a0"/>
<rect x="613" y="14" width="3" height="1" fill="#a0a0a0"/>
<rect x="613" y="16" width="3" height="1" fill="#a0a0a0"/>
<rect x="613" y="18" width="3" height="1" fill="#a0a0a0"/>
<rect x="613" y="20" width="3" height="1" fill="#a0a0a0"/>
<rect x="613" y="22" width="3" height="1" fill="#a0a0a0"/>
<rect x="613" y="24" width="3" height="1" fill="#a0a0a0"/>
<rect x="619" y="4" width="26" height="22" fill="url(#chk)"/>
<rect x="619" y="4" width="26" height="1" fill="#a0a0a0"/>
<rect x="619" y="4" width="1" height="22" fill="#a0a0a0"/>
<rect x="619" y="25" width="26" height="1" fill="#fff"/>
<rect x="644" y="4" width="1" height="22" fill="#fff"/>
<rect x="676" y="5" width="1" height="21" fill="#a0a0a0"/>
<rect x="904" y="15" width="5" height="1" fill="#000"/>
<rect x="905" y="16" width="3" height="1" fill="#000"/>
<rect x="906" y="17" width="1" height="1" fill="#000"/>
<rect x="915" y="3" width="1" height="25" fill="#a0a0a0"/>
<rect x="916" y="3" width="1" height="25" fill="#fff"/>
<rect x="919" y="6" width="3" height="1" fill="#a0a0a0"/>
<rect x="919" y="8" width="3" height="1" fill="#a0a0a0"/>
<rect x="919" y="10" width="3" height="1" fill="#a0a0a0"/>
<rect x="919" y="12" width="3" height="1" fill="#a0a0a0"/>
<rect x="919" y="14" width="3" height="1" fill="#a0a0a0"/>
<rect x="919" y="16" width="3" height="1" fill="#a0a0a0"/>
<rect x="919" y="18" width="3" height="1" fill="#a0a0a0"/>
<rect x="919" y="20" width="3" height="1" fill="#a0a0a0"/>
<rect x="919" y="22" width="3" height="1" fill="#a0a0a0"/>
<rect x="919" y="24" width="3" height="1" fill="#a0a0a0"/>
<rect x="1065" y="4" width="26" height="22" fill="url(#chk)"/>
<rect x="1065" y="4" width="26" height="1" fill="#a0a0a0"/>
<rect x="1065" y="4" width="1" height="22" fill="#a0a0a0"/>
<rect x="1065" y="25" width="26" height="1" fill="#fff"/>
<rect x="1090" y="4" width="1" height="22" fill="#fff"/>
<rect x="1176" y="3" width="1" height="25" fill="#a0a0a0"/>
<rect x="1177" y="3" width="1" height="25" fill="#fff"/>
</g>
<path d="M15.6,8.6 H23 L26.4,12 V22.4 H15.6 Z" fill="#fff" stroke="#6e6e6e" stroke-width="1.1" stroke-linejoin="round"/>
<path d="M23,8.6 V12 H26.4 Z" fill="#fff" stroke="#6e6e6e" stroke-width="0.9" stroke-linejoin="round"/>
<rect x="17.2" y="10.2" width="2.8" height="1.7" fill="#7a7a7a"/>
<path d="M17.2,14.5 H22.6 M17.2,16.6 H21.8 M17.2,18.6 H19.4" stroke="#808080" stroke-width="1"/>
<path d="M23.4,14.6 H27.4 V18.2 H31 V22.2 H27.4 V25.8 H23.4 V22.2 H19.6 V18.2 H23.4 Z" fill="url(#gpl)" stroke="#0a8a0a" stroke-width="0.9"/>
<text class="cn" x="33.8" y="19.2">新订单</text>
<path d="M82.2,17.2 L89.8,22.4 L89.6,24.1 L82,18.9 Z" fill="#f0d070" stroke="#a86808" stroke-width="0.8" stroke-linejoin="round"/>
<path d="M89.8,22.4 L97.2,16.4 L97.9,18 L89.6,24.1 Z" fill="#e6d898" stroke="#a86808" stroke-width="0.8" stroke-linejoin="round"/>
<path d="M87.6,9 L96.5,14.6 L97.2,16.4 L89.8,22.4 L82.2,17.2 C84.6,15 86.4,12.5 87.6,9 Z" fill="url(#ggold)" stroke="#a86808" stroke-width="0.9" stroke-linejoin="round"/>
<path d="M88.4,11 L95.2,15.4 L90,19.8 L85,16.6 C86.6,15 87.6,13 88.4,11 Z" fill="#fbe060" opacity="0.6"/>
<path d="M112,9.4 L115.4,10.8 V17.6 H112 Z" fill="#1484e4"/>
<path d="M112,9.4 L119,8.3 L123,9.6 L115.4,10.8 Z" fill="#58b4fa"/>
<path d="M115.4,10.8 L123,9.6 V17.6 H115.4 Z" fill="#2496f2"/>
<path d="M115.4,10.8 V17" stroke="#d8ecff" stroke-width="0.8"/>
<rect x="117" y="12.3" width="4.8" height="1.3" fill="#fff"/>
<rect x="117" y="14.6" width="4.8" height="0.9" fill="#a8d4fa"/>
<path d="M113.6,23.6 C109.6,23.6 109.4,19 113,18.6 C113.4,16.4 116,16 117,17.4 C118.4,15.6 121.6,15.8 122.2,18 C124,17 126,18.4 125.4,20 C127,21 126.4,23.6 123.6,23.6 Z" fill="url(#gcloud)" stroke="#4a6aa8" stroke-width="0.9"/>
<circle cx="146" cy="16.1" r="7.9" fill="url(#gsig)"/>
<path d="M146,16.1 V23.9 A7.8,7.8 0 0 0 153.8,16.1 A7.8,7.8 0 0 0 151.5,10.6 Z" fill="url(#gsgr)"/>
<g fill="none" stroke="#4272d8" stroke-width="1">
<path d="M146,8.7 A7.4,7.4 0 0 0 146,23.5" opacity="0.6"/>
<path d="M146,11.1 A5,5 0 0 0 146,21.1" opacity="0.55"/>
<path d="M146,13.3 A2.8,2.8 0 0 0 146,18.9" opacity="0.45"/>
</g>
<g fill="none" stroke="#6a9ab0" stroke-width="0.9" opacity="0.6">
<path d="M146,8.7 A7.4,7.4 0 0 1 153.4,16.1"/>
<path d="M146,11.1 A5,5 0 0 1 151,16.1 A5,5 0 0 1 148,20.7"/>
</g>
<path d="M146.5,16.6 V23.8" stroke="#22a022" stroke-width="1.5"/>
<circle cx="145.8" cy="15.8" r="1.8" fill="#2a56cc"/>
<path d="M165.2,14.8 L181,13.8 L177,19.6 L173.4,23.9 L170.4,22.2 Z" fill="url(#gyel)" stroke="#c89210" stroke-width="0.8" stroke-linejoin="round"/>
<ellipse cx="173" cy="12.9" rx="8" ry="2.6" transform="rotate(-5 173 12.9)" fill="#4aa0dc" stroke="#1a80b0" stroke-width="0.7"/>
<path d="M169.3,12.6 C169.2,6.8 176.4,6.6 176.4,12 C174,13.4 171.5,13.6 169.3,12.6 Z" fill="#7cc4f0" stroke="#2a88c0" stroke-width="0.7"/>
<circle cx="177.5" cy="19.6" r="4.1" fill="url(#gred)" stroke="#b01808" stroke-width="0.6"/>
<rect x="176" y="18.1" width="3" height="3" fill="#fff"/>
<text class="cn" x="186.2" y="19.2">自动交易</text>
<g stroke="#505050" stroke-width="1.3" fill="none">
<path d="M259.5,23.5 V10.5 M257,21.5 H270.5"/>
</g>
<path d="M257.5,12.5 L259.5,9.5 L261.5,12.5 Z M268.5,19.5 L271.5,21.5 L268.5,23.5 Z" fill="#505050"/>
<path d="M265.5,11.5 V19.5 M265.5,12.5 H268 M263,18.5 H265.5" stroke="#1a8a1a" stroke-width="1.5" fill="none"/>
<g stroke="#505050" stroke-width="1.3" fill="none">
<path d="M287.5,23.5 V10.5 M285,21.5 H298.5"/>
</g>
<path d="M285.5,12.5 L287.5,9.5 L289.5,12.5 Z M296.5,19.5 L299.5,21.5 L296.5,23.5 Z" fill="#505050"/>
<path d="M293.5,8 V20" stroke="#0a8a0a" stroke-width="1.2"/>
<rect x="291.2" y="10.2" width="4.8" height="7.6" fill="#30d830" stroke="#0a8a0a" stroke-width="1"/>
<g stroke="#505050" stroke-width="1.3" fill="none">
<path d="M315.5,23.5 V10.5 M313,21.5 H326.5"/>
</g>
<path d="M313.5,12.5 L315.5,9.5 L317.5,12.5 Z M324.5,19.5 L327.5,21.5 L324.5,23.5 Z" fill="#505050"/>
<path d="M314.2,18.6 C317,17 318.5,13.2 320.6,13.4 C322.6,13.6 324,16.8 326,17.4" stroke="#2a9a2a" stroke-width="1.4" fill="none"/>
<path d="M355.2,18.2 L360.4,23.4" stroke="#b88a10" stroke-width="3.4" stroke-linecap="round"/>
<path d="M355.59999999999997,18.4 L360.2,23" stroke="#f0d050" stroke-width="1.6" stroke-linecap="round"/>
<circle cx="351.2" cy="14.2" r="5.6" fill="url(#glens)" stroke="#3a7ad0" stroke-width="1.4"/>
<path d="M348.2,14.2 H354.2 M351.2,11.2 V17.2" stroke="#3a7ab0" stroke-width="1.8"/>
<path d="M382.8,18.2 L388.0,23.4" stroke="#b88a10" stroke-width="3.4" stroke-linecap="round"/>
<path d="M383.2,18.4 L387.8,23" stroke="#f0d050" stroke-width="1.6" stroke-linecap="round"/>
<circle cx="378.8" cy="14.2" r="5.6" fill="url(#glens)" stroke="#3a7ad0" stroke-width="1.4"/>
<path d="M375.8,14.2 H381.8" stroke="#3a7ab0" stroke-width="1.8"/>
<rect x="401" y="8" width="8" height="7.8" fill="url(#ggrn)"/>
<rect x="402.2" y="11" width="5.6" height="3.8" fill="#fff" opacity="0.92"/>
<rect x="403" y="12.2" width="4" height="1" fill="url(#ggrn)" opacity="0.7"/>
<rect x="402" y="9" width="1" height="1" fill="#fff" opacity="0.8"/>
<rect x="409.2" y="8" width="8" height="7.8" fill="url(#gtb)"/>
<rect x="410.4" y="11" width="5.6" height="3.8" fill="#fff" opacity="0.92"/>
<rect x="411.2" y="12.2" width="4" height="1" fill="url(#gtb)" opacity="0.7"/>
<rect x="410.2" y="9" width="1" height="1" fill="#fff" opacity="0.8"/>
<rect x="401" y="16" width="8" height="7.8" fill="url(#gtb)"/>
<rect x="402.2" y="19" width="5.6" height="3.8" fill="#fff" opacity="0.92"/>
<rect x="403" y="20.2" width="4" height="1" fill="url(#gtb)" opacity="0.7"/>
<rect x="402" y="17" width="1" height="1" fill="#fff" opacity="0.8"/>
<rect x="409.2" y="16" width="8" height="7.8" fill="url(#ggrn)"/>
<rect x="410.4" y="19" width="5.6" height="3.8" fill="#fff" opacity="0.92"/>
<rect x="411.2" y="20.2" width="4" height="1" fill="url(#ggrn)" opacity="0.7"/>
<rect x="410.2" y="17" width="1" height="1" fill="#fff" opacity="0.8"/>
<g stroke="#505050" stroke-width="1.3" fill="none">
<path d="M439.5,23.5 V10.5 M437,21.5 H450.5"/>
</g>
<path d="M437.5,12.5 L439.5,9.5 L441.5,12.5 Z M448.5,19.5 L451.5,21.5 L448.5,23.5 Z" fill="#505050"/>
<path d="M444.3,11.8 L448,15.2 L444.3,18.6 Z" fill="#38d038" stroke="#0a8a0a" stroke-width="0.9"/>
<g stroke="#505050" stroke-width="1.3" fill="none">
<path d="M467.5,23.5 V10.5 M465,21.5 H478.5"/>
</g>
<path d="M465.5,12.5 L467.5,9.5 L469.5,12.5 Z M476.5,19.5 L479.5,21.5 L476.5,23.5 Z" fill="#505050"/>
<path d="M473.5,10 V20.5" stroke="#2a6a9a" stroke-width="1.4"/>
<path d="M474.6,15.5 L477.4,12.9 L477,15 L479.4,15.5 L477,16 L477.4,18.1 Z" fill="#d84a10" stroke="#d84a10" stroke-width="0.5"/>
<path d="M498.5,8.5 H506 L509.5,12 V21.5 H498.5 Z" fill="#fff" stroke="#8a8a8a" stroke-width="1"/>
<path d="M506,8.5 V12 H509.5" fill="#e8e8e8" stroke="#8a8a8a" stroke-width="0.8"/>
<path d="M504.6,11.4 C503,11 502.6,11.8 502.6,13 V19.6 M501,14.6 H504.2" stroke="#505050" stroke-width="1" fill="none"/>
<path d="M506.3,14.5 H510.3 V18 H513.8 V22 H510.3 V25.6 H506.3 V22 H502.8 V18 H506.3 Z" fill="url(#gpl)" stroke="#0a8a0a" stroke-width="0.9"/>
<circle cx="544" cy="15.8" r="6.7" fill="#fff" stroke="url(#gblu2)" stroke-width="2.3"/>
<path d="M544,12 V16 H546.8" stroke="#404040" stroke-width="1.2" fill="none"/>
<path d="M544,10.8 V11.6 M544,20 V20.8 M539,15.8 H539.8 M548.2,15.8 H549" stroke="#8aa8d0" stroke-width="1"/>
<rect x="575.5" y="9.5" width="15" height="13" fill="#fff" stroke="#3a78d0" stroke-width="1"/>
<rect x="575" y="9" width="16" height="2.6" fill="url(#gblu)"/>
<path d="M576,16.3 H590" stroke="#3a78d0" stroke-width="0.9"/>
<path d="M577.5,15 L579.5,14.4 L581.5,13 L583.5,14.2 L585.5,13.6 L588.5,13" stroke="#8a2a0a" stroke-width="1.3" fill="none"/>
<path d="M577.5,20.6 L579.8,19.6 L581.6,20.2 L584.6,18.2 L586.4,20 L588.4,20.6" stroke="#1a8a2a" stroke-width="1.3" fill="none"/>
<path d="M627.2,8.8 V20 L629.9,17.6 L632.2,22.8 L634.2,21.9 L631.9,16.9 L635.4,16.7 Z" fill="#505050"/>
<path d="M652,16.5 H658 M661,16.5 H667 M659.5,9 V15 M659.5,18 V24" stroke="#505050" stroke-width="1.3"/>
<rect x="659" y="16" width="1" height="1" fill="#505050"/>
<path d="M693.5,10 V23 M716,16.5 H728 M743.8,22.8 L756.2,10.8" stroke="#505050" stroke-width="1.3" fill="none"/>
<g stroke="#505050" stroke-width="1" fill="none">
<path d="M770,17.5 L779.5,10 M771.5,22.5 L783.5,13 M775,22.8 L784,15.6"/>
<path d="M772.5,15.5 L773.5,22 M775.5,13.5 L777,20 M778.5,11 L780.5,17.5 M781.5,8.5 L782.5,15"/>
</g>
<text x="780.8" y="24.8" style="font-size:6.5px;font-weight:bold;fill:#505050">E</text>
<g stroke="#505050" stroke-width="1" stroke-dasharray="1 1" fill="none">
<path d="M799,9.5 H812 M799,12.5 H812 M799,16.5 H812 M799,20.5 H808"/>
</g>
<text x="808.8" y="25" style="font-size:6.5px;font-weight:bold;fill:#505050">F</text>
<text x="829.9" y="20.7" style="font-size:11.6px;fill:#505050;stroke:#505050;stroke-width:0.3px">A</text>
<g shape-rendering="crispEdges">
<rect x="856" y="10" width="1" height="1" fill="#505050"/>
<rect x="856" y="22" width="1" height="1" fill="#505050"/>
<rect x="858" y="10" width="1" height="1" fill="#505050"/>
<rect x="858" y="22" width="1" height="1" fill="#505050"/>
<rect x="860" y="10" width="1" height="1" fill="#505050"/>
<rect x="860" y="22" width="1" height="1" fill="#505050"/>
<rect x="862" y="10" width="1" height="1" fill="#505050"/>
<rect x="862" y="22" width="1" height="1" fill="#505050"/>
<rect x="864" y="10" width="1" height="1" fill="#505050"/>
<rect x="864" y="22" width="1" height="1" fill="#505050"/>
<rect x="866" y="10" width="1" height="1" fill="#505050"/>
<rect x="866" y="22" width="1" height="1" fill="#505050"/>
<rect x="868" y="10" width="1" height="1" fill="#505050"/>
<rect x="868" y="22" width="1" height="1" fill="#505050"/>
<rect x="856" y="10" width="1" height="1" fill="#505050"/>
<rect x="868" y="10" width="1" height="1" fill="#505050"/>
<rect x="856" y="12" width="1" height="1" fill="#505050"/>
<rect x="868" y="12" width="1" height="1" fill="#505050"/>
<rect x="856" y="14" width="1" height="1" fill="#505050"/>
<rect x="868" y="14" width="1" height="1" fill="#505050"/>
<rect x="856" y="16" width="1" height="1" fill="#505050"/>
<rect x="868" y="16" width="1" height="1" fill="#505050"/>
<rect x="856" y="18" width="1" height="1" fill="#505050"/>
<rect x="868" y="18" width="1" height="1" fill="#505050"/>
<rect x="856" y="20" width="1" height="1" fill="#505050"/>
<rect x="868" y="20" width="1" height="1" fill="#505050"/>
<rect x="856" y="22" width="1" height="1" fill="#505050"/>
<rect x="868" y="22" width="1" height="1" fill="#505050"/>
</g>
<rect x="855" y="9" width="2" height="2" fill="#505050"/>
<path d="M858.5,13.6 H866 M862.2,13.6 V20.6" stroke="#505050" stroke-width="1.6" fill="none"/>
<path d="M886.6,10 L890.4,13.4 L888.4,14.8 H884.6 L883,13.4 Z" fill="#505050"/>
<path d="M893.4,23 L889.6,19.6 L891.6,18.2 H895.4 L897,19.6 Z" fill="#505050"/>
<path d="M885.4,17.2 L887.6,19.4 L892.4,13.4" stroke="#505050" stroke-width="1.4" fill="none"/>
<text class="tf" x="930.8" y="19.8">M1</text>
<text class="tf" x="958.8" y="19.8">M5</text>
<text class="tf" x="984.6" y="19.8">M15</text>
<text class="tf" x="1012.7" y="19.8">M30</text>
<text class="tf" x="1043.8" y="19.8">H1</text>
<text class="tf" x="1070.8" y="19.8">H4</text>
<text class="tf" x="1099.5" y="19.8">D1</text>
<text class="tf" x="1126.8" y="19.8">W1</text>
<text class="tf" x="1153.4" y="19.8">MN</text>
<path d="M1644,15.6 L1639,20.8" stroke="#2a5fd0" stroke-width="2.3" stroke-linecap="round"/>
<circle cx="1646.6" cy="13" r="3.8" fill="#f4f6fa" stroke="#2a5fd0" stroke-width="1.3"/>
<path d="M1663.2,17.5 C1663.2,12.5 1676.5,12.5 1676.5,17.5 C1676.5,21.5 1670,22.4 1668.4,22 L1665.6,24.4 L1666,21.4 C1664.2,20.6 1663.2,19.2 1663.2,17.5 Z" fill="url(#gbub)" stroke="#b0b0b8" stroke-width="0.8"/>
<circle cx="1677.8" cy="13.5" r="8.2" fill="url(#gred)"/>
<text x="1673.2" y="18.1" style="font-size:13.2px;fill:#fff;stroke:#fff;stroke-width:0.5px">1</text>

</svg>
</body></html>
